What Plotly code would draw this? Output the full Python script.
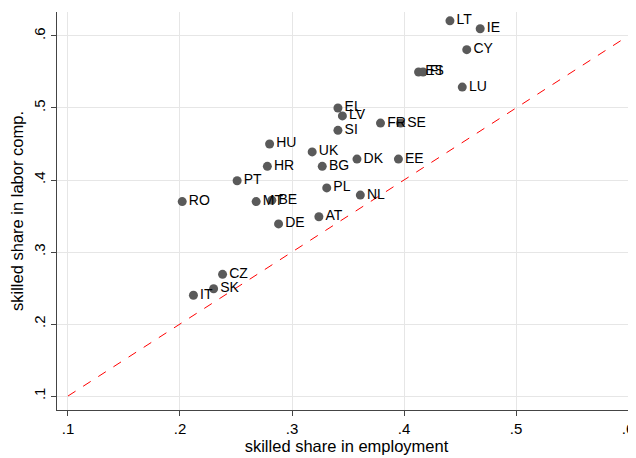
import plotly.graph_objects as go

countries = ["LT", "IE", "CY", "ES", "FI", "LU", "EL", "LV", "SI", "FR", "SE",
             "HU", "UK", "DK", "EE", "HR", "BG", "PT", "PL", "NL", "RO", "MT",
             "BE", "AT", "DE", "CZ", "SK", "IT"]
emp_share = [0.441, 0.468, 0.456, 0.413, 0.417, 0.452, 0.341, 0.345, 0.341, 0.379, 0.397,
             0.280, 0.318, 0.358, 0.395, 0.278, 0.327, 0.251, 0.331, 0.361, 0.202, 0.268,
             0.282, 0.324, 0.288, 0.238, 0.230, 0.212]
comp_share = [0.621, 0.610, 0.581, 0.550, 0.550, 0.529, 0.500, 0.489, 0.469, 0.479, 0.479,
              0.450, 0.439, 0.429, 0.429, 0.419, 0.419, 0.399, 0.389, 0.379, 0.370, 0.370,
              0.372, 0.349, 0.339, 0.269, 0.249, 0.240]
line_x = [0.1, 0.595]
tick_vals = [0.1, 0.2, 0.3, 0.4, 0.5, 0.6]
tick_text = [".1", ".2", ".3", ".4", ".5", ".6"]

FONT = "Liberation Sans, Arial"

fig = go.Figure()
fig.add_trace(go.Scatter(
    x=line_x, y=line_x, mode="lines",
    line=dict(color="red", width=1, dash="dash"), hoverinfo="skip"))
fig.add_trace(go.Scatter(
    x=emp_share, y=comp_share, mode="markers+text", text=countries,
    textposition="middle right",
    textfont=dict(family=FONT, size=14, color="black"),
    marker=dict(color="#5a5a5a", size=9), cliponaxis=False))

axis_common = dict(
    tickvals=tick_vals, ticktext=tick_text,
    showgrid=True, gridcolor="#e6e6e6", gridwidth=1,
    showline=True, linecolor="#444444", linewidth=1,
    ticks="outside", ticklen=5, tickcolor="#444444",
    tickfont=dict(family=FONT, size=15, color="black"),
    zeroline=False, automargin=False,
)
fig.update_xaxes(range=[0.0902, 0.6071], title=dict(text="skilled share in employment",
                 font=dict(family=FONT, size=16.5, color="black"), standoff=2),
                 **axis_common)
fig.update_yaxes(range=[0.0806, 0.6333], tickangle=-90,
                 title=dict(text="skilled share in labor comp.",
                            font=dict(family=FONT, size=16.5, color="black"), standoff=4),
                 **axis_common)
# page body has an 8px default margin; size the figure to compensate
fig.update_layout(
    width=628, height=450, showlegend=False,
    margin=dict(l=49, r=0, t=4, b=48),
    plot_bgcolor="white", paper_bgcolor="white",
)
fig.write_html("out.html")
